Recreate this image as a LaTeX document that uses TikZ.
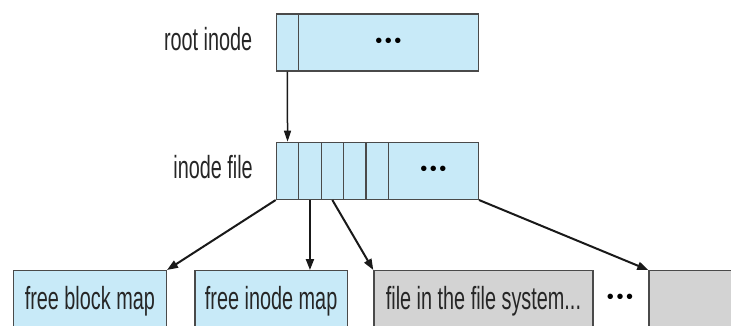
\documentclass[tikz,border=0pt]{standalone}
\usepackage{fontspec}
\setmainfont{Liberation Sans}
\newfontfamily\labelfont[FakeStretch=0.62]{Liberation Sans}
\newfontfamily\dotfont{Liberation Sans}
\usetikzlibrary{arrows.meta,positioning}
\definecolor{inodeblue}{HTML}{C8EAF8}
\definecolor{filegray}{HTML}{D3D3D3}
\definecolor{edgegray}{HTML}{4A4A4A}
\newcommand{\labelsize}{\labelfont\fontsize{32pt}{36pt}\selectfont}
\newcommand{\ellip}{{\dotfont\fontsize{20pt}{24pt}\selectfont •\hspace{2.6pt}•\hspace{2.6pt}•}}

\begin{document}
\begin{tikzpicture}[x=1pt,y=-1pt,
    cell/.style={draw=edgegray, line width=1.3pt, fill=inodeblue, inner sep=0pt,
      minimum height=57pt, anchor=north west},
    mapbox/.style={cell, minimum height=61pt, font=\labelsize, text=black!85},
    filebox/.style={mapbox, fill=filegray},
    link/.style={-{Triangle[length=11pt,width=8pt]}, line width=2pt, black!90},
    rootlink/.style={-{Triangle[length=11pt,width=7pt]}, line width=1.5pt, black!90}]
          \useasboundingbox (0,0) rectangle (731,325);
          \clip (0,0) rectangle (731,325);

          % root inode
          \node[anchor=base east, font=\labelsize, text=black!85, inner sep=0pt] (rootlabel) at (252.5,50.7) {root inode};
          \node[cell, minimum width=22pt] (r1) at (275.7,13.3) {};
          \node[cell, minimum width=180pt] (r2) at (297.7,13.3) {\ellip};

          % inode file
          \node[anchor=base east, font=\labelsize, text=black!85, inner sep=0pt] (filelabel) at (253,178.3) {inode file};
          \foreach \i in {0,...,4}
            \node[cell, minimum width=22.4pt] (f\i) at ({275.7+22.4*\i},141.7) {};
          \node[cell, minimum width=90pt] (frest) at (387.7,141.7) {\ellip};

          % blocks of the file system
          \node[mapbox, minimum width=153pt] (fbm) at (12.7,270) {free block map};
          \node[mapbox, minimum width=152.4pt] (fim) at (194.3,270) {free inode map};
          \node[filebox, minimum width=219pt] (fsys) at (373.3,270) {file in the file system...};
          \node[inner sep=0pt] (dots) at (620,299) {\ellip};
          \node[filebox, minimum width=100pt] (more) at (648.3,270) {};

          \draw[rootlink] (r1.south) -- (f0.north);
          \draw[link] (f0.south west) -- (fbm.north east);
          \draw[link] (f1.south) -- (f1.south |- fim.north);
          \draw[link] (f2.south) -- (fsys.north west);
          \draw[link] (frest.south east) -- (more.north west);
        \end{tikzpicture}
\end{document}
